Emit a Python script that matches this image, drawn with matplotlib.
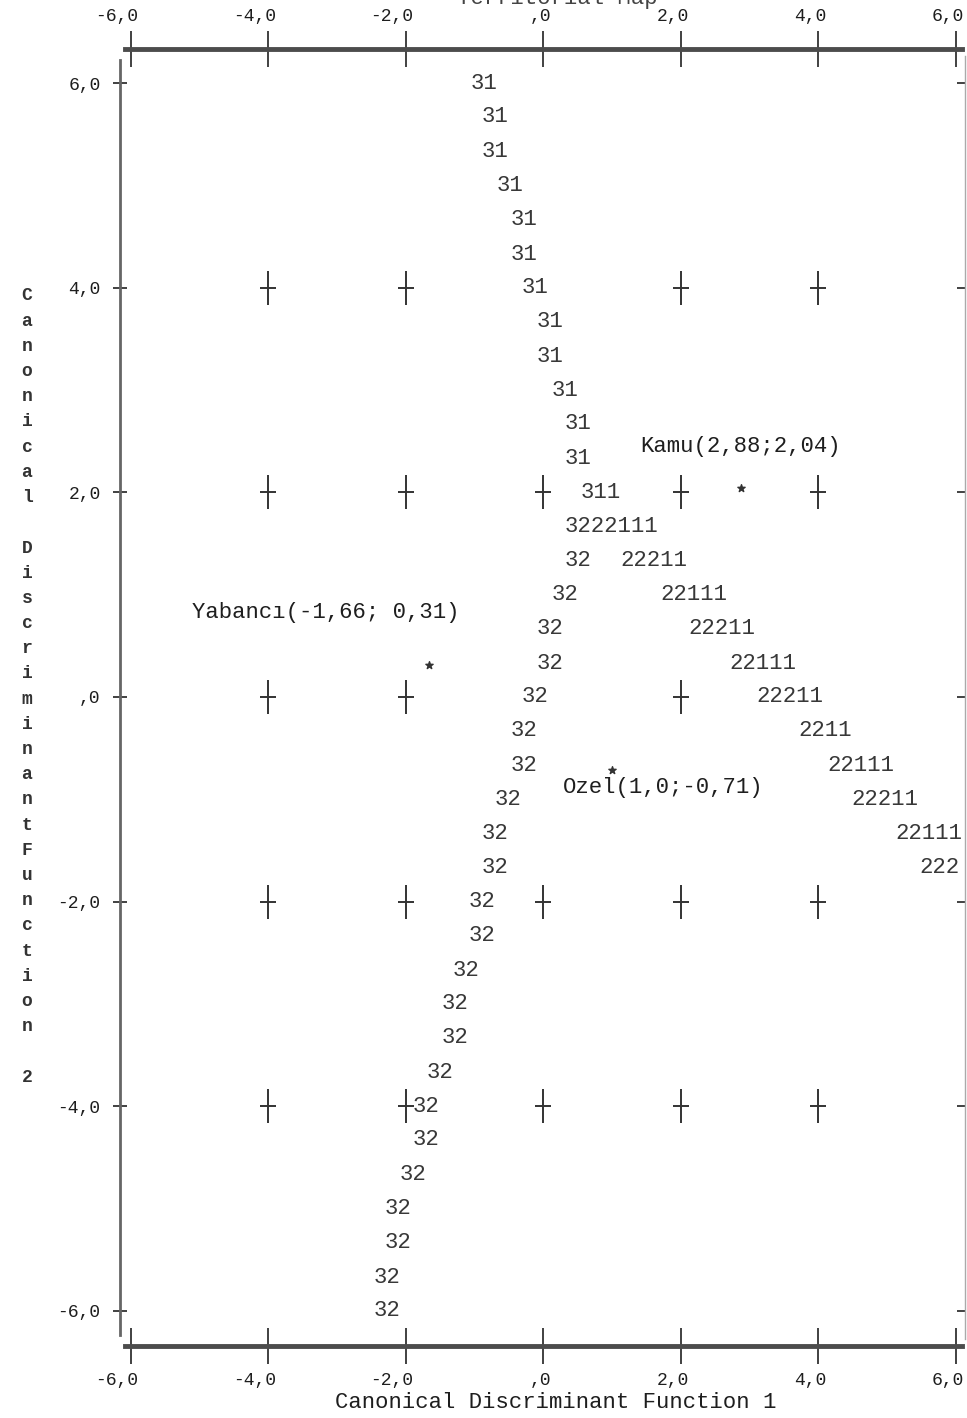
import matplotlib
matplotlib.use('Agg')
import matplotlib.pyplot as plt
from matplotlib.transforms import ScaledTranslation

plt.rcParams['font.family'] = ['Liberation Mono', 'DejaVu Sans Mono']

# eksen tikleri
ticks = [-6, -4, -2, 0, 2, 4, 6]
tick_labels = ['-6,0', '-4,0', '-2,0', ',0', '2,0', '4,0', '6,0']

# bolge sinirlari (satir y, [(sol x, karakterler), ...])
territory = [
    (6.00, [(-1.06, '31')]),
    (5.67, [(-0.89, '31')]),
    (5.33, [(-0.89, '31')]),
    (5.00, [(-0.68, '31')]),
    (4.67, [(-0.47, '31')]),
    (4.33, [(-0.47, '31')]),
    (4.00, [(-0.31, '31')]),
    (3.67, [(-0.10, '31')]),
    (3.33, [(-0.10, '31')]),
    (3.00, [(0.12, '31')]),
    (2.67, [(0.31, '31')]),
    (2.33, [(0.31, '31')]),
    (2.00, [(0.54, '311')]),
    (1.67, [(0.31, '3222111')]),
    (1.33, [(0.31, '32'), (1.12, '22211')]),
    (1.00, [(0.12, '32'), (1.70, '22111')]),
    (0.67, [(-0.10, '32'), (2.12, '22211')]),
    (0.33, [(-0.10, '32'), (2.71, '22111')]),
    (0.00, [(-0.31, '32'), (3.11, '22211')]),
    (-0.33, [(-0.47, '32'), (3.71, '2211')]),
    (-0.67, [(-0.47, '32'), (4.13, '22111')]),
    (-1.00, [(-0.70, '32'), (4.48, '22211')]),
    (-1.33, [(-0.89, '32'), (5.13, '22111')]),
    (-1.67, [(-0.89, '32'), (5.47, '222')]),
    (-2.00, [(-1.08, '32')]),
    (-2.33, [(-1.08, '32')]),
    (-2.67, [(-1.31, '32')]),
    (-3.00, [(-1.47, '32')]),
    (-3.33, [(-1.47, '32')]),
    (-3.67, [(-1.69, '32')]),
    (-4.00, [(-1.89, '32')]),
    (-4.33, [(-1.89, '32')]),
    (-4.67, [(-2.08, '32')]),
    (-5.00, [(-2.30, '32')]),
    (-5.33, [(-2.30, '32')]),
    (-5.67, [(-2.47, '32')]),
    (-6.00, [(-2.47, '32')]),
]

# grup merkezleri
groups = ['Kamu', 'Yabancı', 'Ozel']
cent_x = [2.88, -1.66, 1.0]
cent_y = [2.04, 0.31, -0.71]
cent_labels = ['Kamu(2,88;2,04)', 'Yabancı(-1,66; 0,31)', 'Ozel(1,0;-0,71)']
label_x = [1.41, -5.10, 0.29]
label_y = [2.45, 0.83, -0.88]

# ic izgara artilari (yazi altinda kalanlar yok)
cross_x = [-4, -2, 0, 2, 4]
cross_y = [4, 2, 0, -2, -4]
hidden = [(0, 4), (0, 0), (4, 0)]

W, H = 967, 1418
fig = plt.figure(figsize=(W / 100, H / 100), dpi=100)
ax = fig.add_axes([120 / W, (H - 1346) / H, 845 / W, (1346 - 49) / H])
ax.set_xlim(-6.153, 6.138)
ax.set_ylim(-6.344, 6.334)

dark = '#333333'
txt_col = '#383838'
lab_col = '#1e1e1e'

# spines
for s in ['top', 'right']:
    ax.spines[s].set_visible(False)
ax.spines['bottom'].set_linewidth(3.5)
ax.spines['bottom'].set_color('#4c4c4c')
ax.spines['bottom'].set_bounds(-6.08, 6.10)
ax.spines['left'].set_linewidth(2)
ax.spines['left'].set_color('#666666')
ax.spines['left'].set_bounds(-6.24, 6.23)

ax.set_xticks(ticks)
ax.set_xticklabels(tick_labels)
ax.set_yticks(ticks)
ax.set_yticklabels(tick_labels)
ax.tick_params(axis='x', direction='inout', length=26, width=1.3, color=dark,
               pad=6, labelsize=13, labelcolor=lab_col)
ax.tick_params(axis='y', direction='inout', length=10, width=1.3, color=dark,
               pad=9, labelsize=13, labelcolor=lab_col)

top = ax.secondary_xaxis('top')
top.set_xticks(ticks)
top.set_xticklabels(tick_labels)
top.spines['top'].set_linewidth(3.5)
top.spines['top'].set_color('#4c4c4c')
top.spines['top'].set_bounds(-6.08, 6.10)
top.tick_params(direction='inout', length=26, width=1.3, color=dark,
                pad=4, labelsize=13, labelcolor=lab_col)

# x etiketleri tikin biraz sagina yaslaniyor
shift = ScaledTranslation(8 / 100, 0, fig.dpi_scale_trans)
for lab in list(ax.get_xticklabels()) + list(top.get_xticklabels()):
    lab.set_horizontalalignment('right')
    lab.set_transform(lab.get_transform() + shift)

right = ax.secondary_yaxis('right')
right.set_yticks(ticks)
right.set_yticklabels([])
right.spines['right'].set_linewidth(1)
right.spines['right'].set_color('#aaaaaa')
right.spines['right'].set_bounds(-6.28, 6.27)
right.tick_params(direction='in', length=6, width=1.3, color=dark)

# artilar
px, py = [], []
for yv in cross_y:
    for xv in cross_x:
        if (xv, yv) not in hidden:
            px.append(xv)
            py.append(yv)
ax.plot(px, py, ls='none', marker='|', ms=24, mew=1.4, color=dark)
ax.plot(px, py, ls='none', marker='_', ms=12, mew=1.4, color=dark)

# bolge haritasi
for yv, segs in territory:
    for xv, chars in segs:
        ax.text(xv, yv, chars, ha='left', va='center', fontsize=16,
                color=txt_col)

# merkezler
ax.scatter(cent_x, cent_y, marker='*', s=30, color=dark, zorder=3)
for lx, ly, lab in zip(label_x, label_y, cent_labels):
    ax.text(lx, ly, lab, ha='left', va='center', fontsize=16, color=lab_col)

# eksen basliklari
fig.text(556 / W, 1 - 1403 / H, 'Canonical Discriminant Function 1',
         ha='center', va='center', fontsize=16, color=lab_col)
ylab = 'Canonical DiscriminantFunction 2'
for i, ch in enumerate(ylab):
    fig.text(27 / W, 1 - (296 + i * 25.2) / H, ch, ha='center', va='center',
             fontsize=13, fontweight='bold', color='#333333')
fig.text(557 / W, 1 - 4 / H, 'Territorial Map', ha='center', va='baseline',
         fontsize=16, color='#444444')

fig.savefig('out.png', dpi=100)
